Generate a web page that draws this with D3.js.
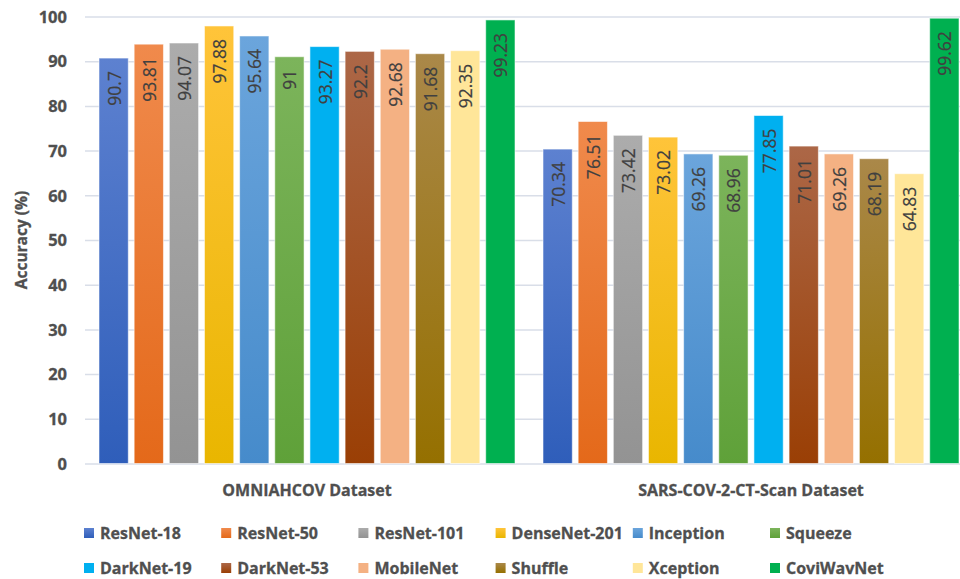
<!DOCTYPE html>
<html>
<head>
<meta charset="utf-8">
<script src="https://cdn.jsdelivr.net/npm/d3@7"></script>
<style>
  html, body { margin: 0; padding: 0; background: #fff; }
  svg { display: block; font-family: "Open Sans", "Noto Sans", sans-serif; }
  .bold-text { font-weight: bold; fill: #4f4f4f; stroke: #4f4f4f; stroke-width: 0.3px; }
</style>
</head>
<body>
<svg id="chart" width="960" height="579"></svg>
<script>
// Datasets (x categories) and models (series)
const datasets = ["OMNIAHCOV Dataset", "SARS-COV-2-CT-Scan Dataset"];
const models = ["ResNet-18", "ResNet-50", "ResNet-101", "DenseNet-201", "Inception", "Squeeze",
                "DarkNet-19", "DarkNet-53", "MobileNet", "Shuffle", "Xception", "CoviWavNet"];
// Accuracy (%) of each model on each dataset
const omniahcovAcc = [90.7, 93.81, 94.07, 97.88, 95.64, 91, 93.27, 92.2, 92.68, 91.68, 92.35, 99.23];
const sarsCovAcc   = [70.34, 76.51, 73.42, 73.02, 69.26, 68.96, 77.85, 71.01, 69.26, 68.19, 64.83, 99.62];
const yTicks = [0, 10, 20, 30, 40, 50, 60, 70, 80, 90, 100];

// Series fills: top and bottom stops of the vertical shading
const fillTop    = ["#5d81d0", "#f08a4c", "#acacac", "#ffc43a", "#6ba5dc", "#7cb45b",
                    "#00b0f0", "#ac6747", "#f4b183", "#aa8849", "#ffe699", "#00b050"];
const fillBottom = ["#2f5eba", "#e4691a", "#939393", "#e9b600", "#468bcb", "#5fa139",
                    "#00b0f0", "#9a3f05", "#f4b183", "#957000", "#ffe699", "#00b050"];

const accByDataset = [omniahcovAcc, sarsCovAcc];
const rows = datasets.map((d, i) => ({ dataset: d, values: models.map((m, j) => ({ model: m, idx: j, value: accByDataset[i][j] })) }));

const svg = d3.select("#chart");
const plotLeft = 85, plotRight = 973, plotTop = 16.5, plotBottom = 463.5;
const groupPad = 14;

const x0 = d3.scaleBand().domain(datasets).range([plotLeft, plotRight]).padding(0);
const x1 = d3.scaleBand().domain(models)
  .range([groupPad, x0.bandwidth() - groupPad])
  .paddingInner(0.167).paddingOuter(0);
const y = d3.scaleLinear().domain([0, 100]).range([plotBottom, plotTop]);

// gradients
const defs = svg.append("defs");
models.forEach((m, j) => {
  const g = defs.append("linearGradient")
    .attr("id", "grad" + j)
    .attr("x1", 0).attr("y1", 0).attr("x2", 0).attr("y2", 1);
  g.append("stop").attr("offset", "0%").attr("stop-color", fillTop[j]);
  g.append("stop").attr("offset", "100%").attr("stop-color", fillBottom[j]);
});

// gridlines + tick labels
const yAxis = d3.axisLeft(y).tickValues(yTicks).tickSize(-(960 - plotLeft)).tickPadding(18).tickFormat(d3.format("d"));
const gy = svg.append("g").attr("transform", `translate(${plotLeft},0)`).call(yAxis);
gy.select(".domain").remove();
gy.selectAll(".tick line").attr("stroke", "#d9dee8").attr("stroke-width", 1.5);
gy.selectAll(".tick text")
  .attr("class", "bold-text")
  .attr("font-family", "'Open Sans', sans-serif")
  .attr("font-size", 16.5)
  .attr("dy", "0.35em");

// bars
const groups = svg.append("g").selectAll("g.grp")
  .data(rows).join("g")
  .attr("class", "grp")
  .attr("transform", d => `translate(${x0(d.dataset)},0)`);

groups.selectAll("rect")
  .data(d => d.values).join("rect")
  .attr("x", d => x1(d.model))
  .attr("y", d => y(d.value))
  .attr("width", x1.bandwidth())
  .attr("height", d => y(0) - y(d.value))
  .attr("fill", d => `url(#grad${d.idx})`)
  .attr("stroke", "rgba(255,255,255,0.55)")
  .attr("stroke-width", 1);

// value labels, rotated, inside the top of each bar
groups.selectAll("text.val")
  .data(d => d.values).join("text")
  .attr("class", "val")
  .attr("transform", d => `translate(${x1(d.model) + x1.bandwidth() / 2},${y(d.value) + 13}) rotate(-90)`)
  .attr("text-anchor", "end")
  .attr("dominant-baseline", "central")
  .attr("font-size", 17.5)
  .attr("fill", "#404040")
  .attr("stroke", "#404040")
  .attr("stroke-width", 0.2)
  .text(d => String(d.value));

// category labels
svg.append("g").selectAll("text")
  .data(datasets).join("text")
  .attr("class", "bold-text")
  .attr("x", d => x0(d) + x0.bandwidth() / 2)
  .attr("y", 490)
  .attr("text-anchor", "middle")
  .attr("dominant-baseline", "central")
  .attr("font-size", 16)
  .text(d => d);

// y axis title
svg.append("text")
  .attr("class", "bold-text")
  .attr("transform", "translate(21,240) rotate(-90)")
  .attr("text-anchor", "middle")
  .attr("dominant-baseline", "central")
  .attr("font-size", 15.5)
  .text("Accuracy (%)");

// legend: two rows of six
const legendX = d3.scaleBand().domain(d3.range(6)).range([84, 84 + 6 * 137.2]);
const legendRows = [533, 568];
const leg = svg.append("g").selectAll("g")
  .data(models).join("g")
  .attr("transform", (d, j) => `translate(${legendX(j % 6)},${legendRows[Math.floor(j / 6)]})`);
leg.append("rect")
  .attr("x", 0).attr("y", -5).attr("width", 10).attr("height", 10)
  .attr("fill", (d, j) => `url(#grad${j})`);
leg.append("text")
  .attr("class", "bold-text")
  .attr("x", 16).attr("y", 0)
  .attr("dominant-baseline", "central")
  .attr("font-size", 16)
  .text(d => d);
</script>
</body>
</html>
